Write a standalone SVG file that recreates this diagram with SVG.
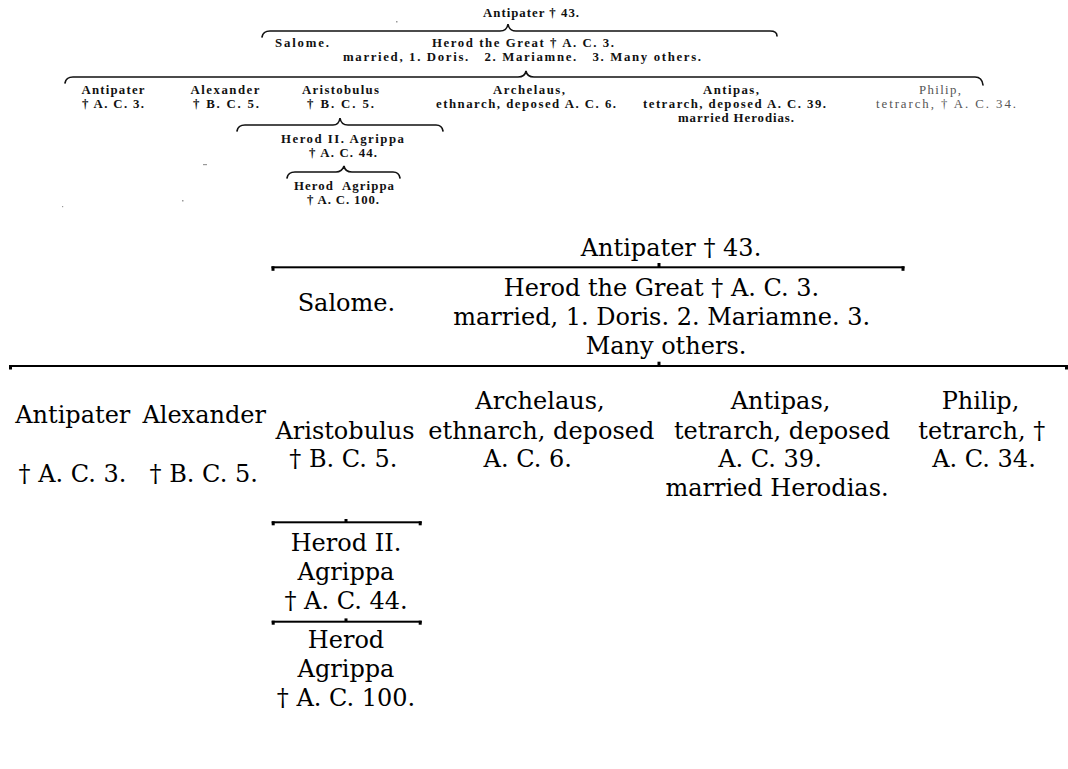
<svg xmlns="http://www.w3.org/2000/svg" width="1068" height="769" viewBox="0 0 1068 769">
<style>
.s{font-family:"Liberation Serif","Times New Roman",serif;font-weight:bold;font-size:12.8px;fill:#111;text-anchor:middle}
.sl{font-family:"Liberation Serif","Times New Roman",serif;font-weight:normal;font-size:12.8px;fill:#555;text-anchor:middle}
.t{font-family:"DejaVu Serif",serif;font-size:24px;fill:#000;text-anchor:middle}
.br{fill:none;stroke:#111;stroke-width:1.6;stroke-linecap:round}
.ln{fill:#000}
</style>
<rect width="1068" height="769" fill="#fff"/>
<!-- scanned original: connectors -->
<g id="connectors-scan">
<path class="br" d="M262,37 Q263,31 270,31 L500,31 Q507,31 508,24 Q509,31 516,31 L770,31 Q777,31 777,36"/>
<path class="br" d="M65,83 Q66,77 73,77 L518,77 Q525,77 526,71 Q527,77 534,77 L975,77 Q982,77 983,85"/>
<path class="br" d="M237,131 Q238,125 245,125 L333,125 Q339,125 340,118 Q341,125 348,125 L436,125 Q442,125 443,131"/>
<path class="br" d="M287,178 Q288,172 295,172 L336,172 Q342,172 344,166 Q345,172 352,172 L393,172 Q399,172 400,178"/>
</g>
<g id="specks" fill="#999">
<rect x="396" y="21" width="1.5" height="1.5"/>
<rect x="203" y="164" width="4" height="1.2"/>
<rect x="182" y="200" width="1.5" height="1.5"/>
<rect x="62" y="206" width="1.2" height="1.2"/>
</g>
<g id="scan-nodes">
<g id="s-antipater43"><text class="s" x="531" y="17" textLength="96" lengthAdjust="spacing">Antipater † 43.</text></g>
<g id="s-salome"><text class="s" x="302" y="47" textLength="54" lengthAdjust="spacing">Salome.</text></g>
<g id="s-herod">
<text class="s" x="523" y="47" textLength="182" lengthAdjust="spacing">Herod the Great † A. C. 3.</text>
<text class="s" x="522" y="61" textLength="358" lengthAdjust="spacing" xml:space="preserve">married, 1. Doris.   2. Mariamne.   3. Many others.</text>
</g>
<g id="s-antipater"><text class="s" x="113" y="94" textLength="63" lengthAdjust="spacing">Antipater</text><text class="s" x="113" y="108" textLength="62" lengthAdjust="spacing">† A. C. 3.</text></g>
<g id="s-alexander"><text class="s" x="225" y="94" textLength="69" lengthAdjust="spacing">Alexander</text><text class="s" x="226" y="108" textLength="66" lengthAdjust="spacing">† B. C. 5.</text></g>
<g id="s-aristobulus"><text class="s" x="340.5" y="94" textLength="77" lengthAdjust="spacing">Aristobulus</text><text class="s" x="340.5" y="108" textLength="67" lengthAdjust="spacing">† B. C. 5.</text></g>
<g id="s-archelaus"><text class="s" x="529" y="94" textLength="72" lengthAdjust="spacing">Archelaus,</text><text class="s" x="526" y="108" textLength="180" lengthAdjust="spacing">ethnarch, deposed A. C. 6.</text></g>
<g id="s-antipas"><text class="s" x="731" y="94" textLength="56" lengthAdjust="spacing">Antipas,</text><text class="s" x="734.5" y="108" textLength="183" lengthAdjust="spacing">tetrarch, deposed A. C. 39.</text><text class="s" x="736" y="122" textLength="116" lengthAdjust="spacing">married Herodias.</text></g>
<g id="s-philip"><text class="sl" x="940" y="94" textLength="42" lengthAdjust="spacing">Philip,</text><text class="sl" x="946" y="108" textLength="140" lengthAdjust="spacing">tetrarch, † A. C. 34.</text></g>
<g id="s-herod2"><text class="s" x="342.5" y="143" textLength="123" lengthAdjust="spacing">Herod II. Agrippa</text><text class="s" x="343" y="157" textLength="68" lengthAdjust="spacing">† A. C. 44.</text></g>
<g id="s-herod3"><text class="s" x="344" y="190" textLength="100" lengthAdjust="spacing" xml:space="preserve">Herod  Agrippa</text><text class="s" x="343" y="204" textLength="72" lengthAdjust="spacing">† A. C. 100.</text></g>
</g>
<!-- rendered tree: connectors -->
<g id="connectors">
<rect class="ln" x="271.5" y="266.3" width="633" height="2"/>
<rect class="ln" x="271.5" y="266.3" width="3" height="4.5"/>
<rect class="ln" x="901.5" y="266.3" width="3" height="4.5"/>
<rect class="ln" x="657.5" y="263" width="3" height="4"/>
<rect class="ln" x="9" y="365" width="1059" height="2"/>
<rect class="ln" x="9" y="365" width="3" height="4.5"/>
<rect class="ln" x="1065" y="365" width="3" height="4.5"/>
<rect class="ln" x="657.5" y="361.7" width="3" height="4"/>
<rect class="ln" x="271.7" y="521.3" width="150" height="2"/>
<rect class="ln" x="271.7" y="521.3" width="3" height="4"/>
<rect class="ln" x="418.7" y="521.3" width="3" height="4"/>
<rect class="ln" x="344.5" y="519" width="3" height="3.5"/>
<rect class="ln" x="271.7" y="620.7" width="150" height="2"/>
<rect class="ln" x="271.7" y="620.7" width="3" height="4"/>
<rect class="ln" x="418.7" y="620.7" width="3" height="4"/>
<rect class="ln" x="344.5" y="618.4" width="3" height="3.5"/>
</g>
<g id="n-antipater43"><text class="t" x="671" y="256">Antipater † 43.</text></g>
<g id="n-salome"><text class="t" x="346.4" y="311">Salome.</text></g>
<g id="n-herod">
<text class="t" x="661.5" y="295.7">Herod the Great † A. C. 3.</text>
<text class="t" x="661.7" y="325">married, 1. Doris. 2. Mariamne. 3.</text>
<text class="t" x="666" y="354">Many others.</text>
</g>
<g id="n-antipater"><text class="t" x="72.8" y="422.7">Antipater</text><text class="t" x="72.5" y="481.7">† A. C. 3.</text></g>
<g id="n-alexander"><text class="t" x="204.2" y="422.7">Alexander</text><text class="t" x="203.7" y="481.7">† B. C. 5.</text></g>
<g id="n-aristobulus"><text class="t" x="345" y="439">Aristobulus</text><text class="t" x="343.4" y="467">† B. C. 5.</text></g>
<g id="n-archelaus"><text class="t" x="540" y="409">Archelaus,</text><text class="t" x="541.3" y="439">ethnarch, deposed</text><text class="t" x="527.7" y="467.3">A. C. 6.</text></g>
<g id="n-antipas"><text class="t" x="780.5" y="409">Antipas,</text><text class="t" x="782" y="439">tetrarch, deposed</text><text class="t" x="770" y="467">A. C. 39.</text><text class="t" x="777" y="496">married Herodias.</text></g>
<g id="n-philip"><text class="t" x="980.5" y="409">Philip,</text><text class="t" x="981.7" y="439">tetrarch, †</text><text class="t" x="984" y="467">A. C. 34.</text></g>
<g id="n-herod2"><text class="t" x="346" y="550.7">Herod II.</text><text class="t" x="346" y="580">Agrippa</text><text class="t" x="346" y="609">† A. C. 44.</text></g>
<g id="n-herod3"><text class="t" x="346" y="648.3">Herod</text><text class="t" x="346" y="677.3">Agrippa</text><text class="t" x="346" y="706">† A. C. 100.</text></g>
</svg>
